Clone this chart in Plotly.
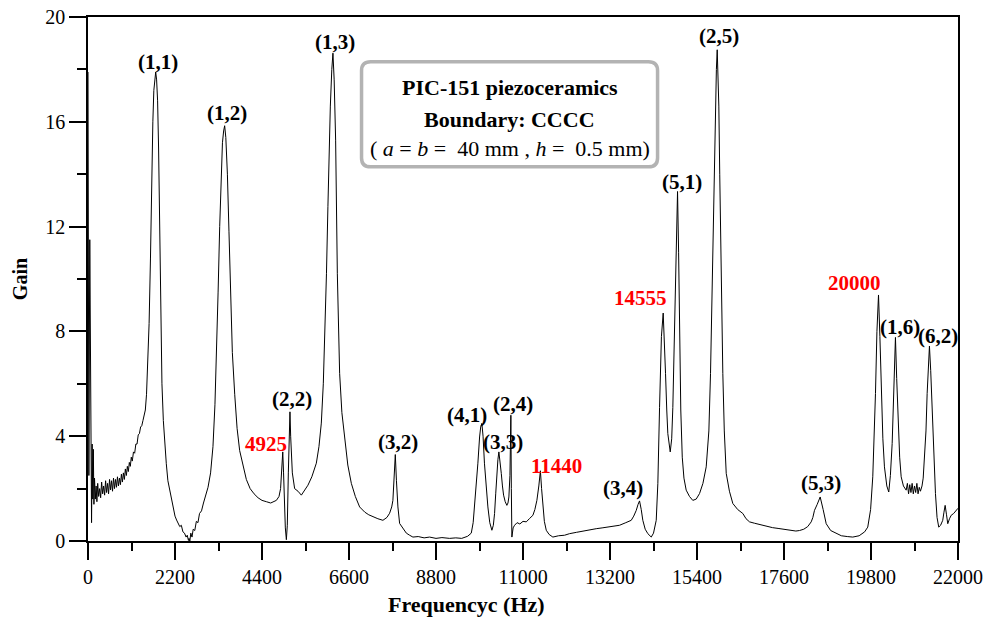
import plotly.graph_objects as go

# ---- data ----
response = [
    (0, 17.9), (10, 9.0), (22, 2.5), (45, 11.5), (68, 4.0), (90, 0.7), (105, 3.7), (120, 1.6),
    (135, 3.5), (150, 1.4), (165, 2.4),
    (185, 1.6), (205, 2.1), (225, 1.5), (245, 2.2), (270, 1.7), (295, 2.0), (320, 1.65), (345, 2.25),
    (370, 1.8), (395, 2.1), (420, 1.75), (445, 2.3), (470, 1.85), (495, 2.2), (520, 1.8), (545, 2.35),
    (570, 1.95), (595, 2.3), (620, 1.9), (645, 2.4), (670, 2.0), (695, 2.35), (720, 2.05), (745, 2.45),
    (770, 2.1), (795, 2.4), (820, 2.15), (845, 2.55), (870, 2.25), (895, 2.6), (920, 2.35), (945, 2.75),
    (970, 2.5), (995, 2.85), (1020, 2.65), (1045, 3.0), (1070, 2.85), (1095, 3.2), (1120, 3.05),
    (1150, 3.4), (1180, 3.35), (1210, 3.7), (1240, 3.7), (1270, 4.05), (1300, 4.1), (1330, 4.35),
    (1360, 4.4), (1390, 4.6), (1420, 4.75), (1450, 5.0), (1480, 5.6), (1510, 6.6), (1545, 8.3),
    (1580, 10.8), (1610, 13.8), (1640, 16.0), (1665, 17.2), (1690, 17.75), (1712, 17.9), (1735, 17.6),
    (1760, 16.8), (1785, 15.0), (1813, 12.0), (1840, 8.6), (1870, 6.0), (1905, 4.6), (1940, 3.7),
    (1980, 2.95), (2020, 2.3), (2060, 2.0), (2100, 1.6), (2150, 1.35), (2200, 0.95), (2240, 0.8),
    (2280, 0.65), (2320, 0.55), (2360, 0.6), (2400, 0.35), (2440, 0.3), (2480, 0.15), (2510, 0.22),
    (2540, 0.02), (2555, 0.1), (2575, 0.0), (2600, 0.3), (2630, 0.15), (2660, 0.45), (2700, 0.4),
    (2740, 0.75), (2780, 0.7), (2820, 1.05), (2870, 1.15), (2920, 1.45), (2970, 1.7), (3035, 2.05),
    (3100, 2.6), (3160, 3.6), (3210, 5.2), (3250, 7.0), (3290, 9.5), (3330, 12.0), (3370, 14.2),
    (3400, 15.2), (3430, 15.65), (3456, 15.85), (3485, 15.4), (3525, 14.0), (3565, 11.8), (3600, 9.45),
    (3650, 7.2), (3710, 5.6), (3770, 4.3), (3835, 3.45), (3900, 3.0), (3962, 2.65), (4004, 2.35),
    (4100, 2.0), (4200, 1.8), (4300, 1.65), (4400, 1.55), (4510, 1.5), (4620, 1.45), (4763, 1.55),
    (4830, 1.7), (4870, 2.0), (4900, 2.8), (4925, 3.4), (4945, 2.6), (4965, 1.3), (4990, 0.5),
    (5016, 0.05), (5040, 0.6), (5066, 2.6), (5090, 4.2), (5107, 4.93), (5125, 4.0), (5167, 2.6),
    (5225, 2.0), (5310, 1.9), (5395, 1.75), (5480, 1.95), (5562, 2.13), (5660, 2.45), (5774, 2.97),
    (5840, 3.6), (5900, 4.5), (5950, 6.0), (5984, 7.67), (6030, 10.2), (6067, 12.76), (6100, 15.0),
    (6128, 16.6), (6165, 18.0), (6194, 18.62), (6225, 17.6), (6262, 15.3), (6305, 10.2), (6363, 6.4),
    (6420, 4.9), (6490, 3.85), (6570, 2.9), (6659, 2.2), (6760, 1.7), (6869, 1.3), (7000, 1.1),
    (7100, 1.0), (7205, 0.92), (7330, 0.85), (7458, 0.79), (7560, 0.9), (7627, 1.06), (7680, 1.3),
    (7710, 1.55), (7745, 2.4), (7771, 3.3), (7800, 2.3), (7837, 1.3), (7880, 0.67), (7963, 0.47),
    (8050, 0.3), (8133, 0.22), (8216, 0.15), (8350, 0.17), (8500, 0.12), (8638, 0.15), (8800, 0.1),
    (8950, 0.13), (9144, 0.1), (9300, 0.12), (9450, 0.1), (9600, 0.18), (9692, 0.3), (9740, 0.7),
    (9776, 1.3), (9820, 2.1), (9859, 2.97), (9902, 3.97), (9930, 4.35), (9960, 4.49), (9990, 4.0),
    (10025, 2.97), (10070, 2.0), (10112, 1.3), (10160, 0.7), (10213, 0.41), (10250, 0.6),
    (10281, 1.05), (10310, 1.8), (10339, 2.58), (10365, 3.1), (10390, 3.4), (10420, 3.05),
    (10451, 2.58), (10480, 2.1), (10509, 1.75), (10550, 1.5), (10592, 1.36), (10620, 1.45),
    (10643, 1.68), (10670, 2.5), (10693, 4.8), (10705, 2.0), (10719, 0.15), (10750, 0.5),
    (10787, 0.6), (10850, 0.7), (10920, 0.65), (11000, 0.75), (11083, 0.73), (11160, 0.85),
    (11250, 0.98), (11300, 1.2), (11351, 1.55), (11400, 2.1), (11440, 2.68), (11470, 2.0),
    (11502, 1.3), (11540, 0.75), (11588, 0.41), (11660, 0.25), (11755, 0.15), (11900, 0.2),
    (12050, 0.22), (12177, 0.28), (12350, 0.33), (12500, 0.38), (12700, 0.42), (12852, 0.47),
    (13000, 0.5), (13150, 0.53), (13300, 0.57), (13441, 0.6), (13600, 0.7), (13737, 0.79),
    (13800, 0.95), (13864, 1.17), (13910, 1.4), (13947, 1.53), (13990, 1.2), (14030, 0.79),
    (14090, 0.45), (14157, 0.28), (14243, 0.15), (14300, 0.3), (14369, 0.79), (14410, 2.2),
    (14453, 5.1), (14500, 7.8), (14545, 8.7), (14575, 7.8), (14604, 6.4), (14635, 5.0), (14662, 4.1),
    (14723, 3.4), (14760, 3.9), (14789, 5.1), (14820, 7.2), (14850, 10.2), (14880, 12.5),
    (14908, 13.34), (14935, 11.0), (14958, 7.67), (14990, 5.0), (15027, 3.2), (15070, 2.4),
    (15127, 1.94), (15210, 1.7), (15294, 1.55), (15380, 1.6), (15464, 1.81), (15550, 2.2),
    (15633, 2.83), (15700, 4.2), (15742, 6.4), (15780, 9.5), (15818, 12.76), (15845, 15.0),
    (15868, 16.6), (15890, 18.0), (15911, 18.75), (15930, 18.0), (15952, 16.6), (15975, 14.0),
    (15995, 11.5), (16025, 8.8), (16053, 6.4), (16090, 4.2), (16139, 2.58), (16220, 1.9),
    (16306, 1.43), (16430, 1.2), (16559, 1.05), (16640, 0.85), (16728, 0.73), (16850, 0.68),
    (17000, 0.62), (17150, 0.56), (17309, 0.51), (17450, 0.48), (17600, 0.45), (17750, 0.42),
    (17900, 0.38), (17992, 0.4), (18100, 0.45), (18200, 0.55), (18288, 0.73), (18330, 0.9),
    (18371, 1.17), (18440, 1.4), (18515, 1.68), (18590, 1.2), (18667, 0.66), (18780, 0.4),
    (18919, 0.28), (19050, 0.2), (19200, 0.17), (19339, 0.15), (19500, 0.2), (19640, 0.35),
    (19718, 0.53), (19790, 1.2), (19845, 2.45), (19880, 3.8), (19913, 5.63), (19950, 8.0),
    (19990, 9.39), (20025, 7.8), (20057, 5.63), (20100, 3.9), (20140, 2.83), (20200, 2.1),
    (20249, 1.87), (20290, 2.5), (20335, 3.72), (20375, 5.6), (20418, 7.77), (20450, 6.2),
    (20487, 4.36), (20525, 3.2), (20563, 2.45), (20620, 2.1), (20689, 1.94), (20720, 2.2),
    (20750, 1.8), (20780, 2.15), (20810, 1.85), (20840, 2.2), (20870, 1.8), (20900, 2.1),
    (20930, 1.85), (20960, 2.2), (20990, 1.8), (21020, 2.05), (21050, 1.9), (21090, 2.1),
    (21120, 2.4), (21152, 3.08), (21190, 4.2), (21220, 5.63), (21250, 6.8), (21278, 7.44),
    (21310, 6.5), (21347, 5.0), (21390, 3.2), (21430, 1.81), (21470, 0.9), (21513, 0.53),
    (21560, 0.6), (21614, 0.79), (21645, 1.1), (21675, 1.36), (21710, 1.0), (21741, 0.66),
    (21785, 0.85), (21827, 0.98), (21890, 1.05), (21953, 1.17), (22000, 1.25),
]
freq_hz = [p[0] for p in response]
gain = [p[1] for p in response]

x_ticks = [0, 2200, 4400, 6600, 8800, 11000, 13200, 15400, 17600, 19800, 22000]
y_ticks = [0, 4, 8, 12, 16, 20]

mode_labels = ["(1,1)", "(1,2)", "(1,3)", "(2,2)", "(3,2)", "(4,1)", "(3,3)", "(2,4)",
               "(3,4)", "(5,1)", "(2,5)", "(5,3)", "(1,6)", "(6,2)"]
mode_label_x = [1767, 3506, 6237, 5150, 7829, 9575, 10485, 10738, 13518, 15009, 15944, 18548, 20545, 21506]
mode_label_y = [18.29, 16.34, 19.06, 5.41, 3.77, 4.80, 3.77, 5.22, 2.04, 13.70, 19.28, 2.21, 8.17, 7.83]

freq_labels = ["4925", "11440", "14555", "20000"]
freq_label_x = [4492, 11849, 13973, 19382]
freq_label_y = [3.70, 2.85, 9.27, 9.85]

FONT = "Liberation Serif"

fig = go.Figure()
fig.add_trace(go.Scatter(x=freq_hz, y=gain, mode="lines",
                         line=dict(color="black", width=1), hoverinfo="skip"))

annotations = []
for t, x, y in zip(mode_labels, mode_label_x, mode_label_y):
    annotations.append(dict(x=x, y=y, xref="x", yref="y", text=f"<b>{t}</b>", showarrow=False,
                            font=dict(family=FONT, size=21, color="black")))
for t, x, y in zip(freq_labels, freq_label_x, freq_label_y):
    annotations.append(dict(x=x, y=y, xref="x", yref="y", text=f"<b>{t}</b>", showarrow=False,
                            font=dict(family=FONT, size=21, color="#ff0000")))

box_lines = ["<b>PIC-151 piezoceramics</b>", "<b>Boundary: CCCC</b>",
             "(\u00a0<i>a</i> = <i>b</i> =\u00a0 40 mm , <i>h</i> =\u00a0 0.5 mm)"]
box_line_y = [17.30, 16.07, 15.0]
for t, y in zip(box_lines, box_line_y):
    annotations.append(dict(x=10660, y=y, xref="x", yref="y", text=t, showarrow=False,
                            font=dict(family=FONT, size=22, color="black")))

# x-axis title (placed as in the reference, left of centre)
annotations.append(dict(x=(466 - 88) / 870, y=-(604 - 540.7) / 523.3, xref="paper", yref="paper",
                        xanchor="center", yanchor="middle",
                        text="<b>Frequencyc (Hz)</b>", showarrow=False,
                        font=dict(family=FONT, size=22, color="black")))

x0, x1, y0, y1 = 6917, 14403, 14.28, 18.29
rx, ry = 230, 0.34
path = (f"M {x0+rx},{y1} L {x1-rx},{y1} Q {x1},{y1} {x1},{y1-ry} "
        f"L {x1},{y0+ry} Q {x1},{y0} {x1-rx},{y0} L {x0+rx},{y0} "
        f"Q {x0},{y0} {x0},{y0+ry} L {x0},{y1-ry} Q {x0},{y1} {x0+rx},{y1} Z")
fig.add_shape(type="path", path=path, xref="x", yref="y",
              line=dict(color="#b3b3b3", width=3.5), fillcolor="rgba(0,0,0,0)")

fig.update_layout(
    width=988, height=618,
    margin=dict(l=88, r=30, t=17, b=77),
    plot_bgcolor="white", paper_bgcolor="white",
    showlegend=False,
    font=dict(family=FONT, color="black", size=20),
    annotations=annotations,
    xaxis=dict(range=[0, 22000], tickmode="array", tickvals=x_ticks,
               ticktext=[str(v) for v in x_ticks], automargin=False,
               ticks="outside", ticklen=17, tickwidth=1.5, tickcolor="black",
               showline=True, linecolor="black", linewidth=1.5, mirror=True,
               showgrid=False, zeroline=False,
               tickfont=dict(family=FONT, size=20),
               minor=dict(tickmode="linear", tick0=0, dtick=1100, ticks="outside",
                          ticklen=8, tickwidth=1.5, tickcolor="black", showgrid=False)),
    yaxis=dict(range=[0, 20], tickmode="array", tickvals=y_ticks, automargin=False,
               ticks="outside", ticklen=17, tickwidth=1.5, tickcolor="black",
               showline=True, linecolor="black", linewidth=1.5, mirror=True,
               showgrid=False, zeroline=False,
               tickfont=dict(family=FONT, size=20),
               minor=dict(tickmode="linear", tick0=0, dtick=2, ticks="outside",
                          ticklen=9, tickwidth=1.5, tickcolor="black", showgrid=False),
               title=dict(text="<b>Gain</b>", font=dict(family=FONT, size=20), standoff=12)),
)

fig.write_html("out.html")
